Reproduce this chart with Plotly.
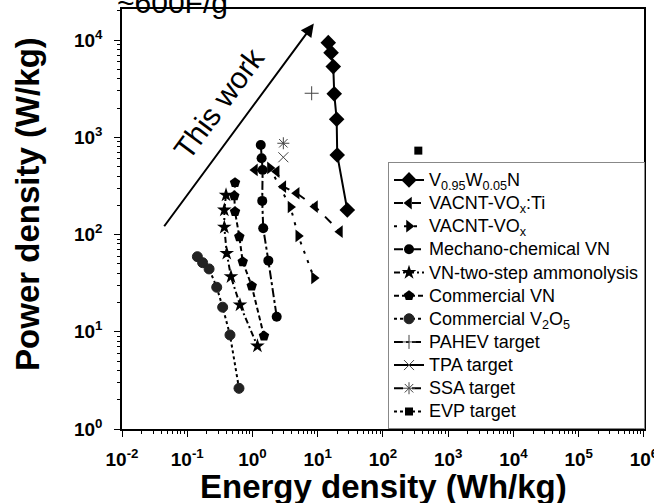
import plotly.graph_objects as go

# ---- data (Energy density Wh/kg, Power density W/kg) ----
vwn_E = [14.5, 16.0, 17.3, 17.9, 19.5, 19.9, 28.4]
vwn_P = [9420, 7430, 5340, 2800, 1536, 659, 179]

vti_E = [1.09, 2.35, 2.97, 4.76, 9.08, 21.9]
vti_P = [462, 444, 311, 266, 194, 107]

vox_E = [1.85, 3.82, 5.03, 8.77]
vox_P = [484, 192, 96.8, 35.8]

mech_E = [1.34, 1.38, 1.43, 1.41, 1.46, 1.75, 2.35]
mech_P = [835, 609, 462, 222, 116, 53.9, 14.3]

two_E = [0.393, 0.370, 0.370, 0.403, 0.468, 0.643, 1.19]
two_P = [255, 179, 119, 64.2, 36.9, 18.9, 7.14]

cvn_E = [0.540, 0.526, 0.540, 0.628, 0.708, 0.973, 1.50]
cvn_P = [342, 250, 172, 95.1, 52.6, 29.6, 9.06]

v2o5_E = [0.143, 0.172, 0.216, 0.283, 0.349, 0.452, 0.621]
v2o5_P = [59.2, 51.4, 44.3, 28.7, 17.9, 9.27, 2.62]

pahev_E, pahev_P = [8.07], [2840]
tpa_E, tpa_P = [2.97], [624]
ssa_E, ssa_P = [2.97], [869]
evp_E, evp_P = [348], [730]

x_tickvals = [0.01, 0.1, 1, 10, 100, 1e3, 1e4, 1e5, 1e6]
x_ticktext = ["<b>10<sup>-2</sup></b>", "<b>10<sup>-1</sup></b>", "<b>10<sup>0</sup></b>",
              "<b>10<sup>1</sup></b>", "<b>10<sup>2</sup></b>", "<b>10<sup>3</sup></b>",
              "<b>10<sup>4</sup></b>", "<b>10<sup>5</sup></b>", "<b>10<sup>6</sup></b>"]
y_tickvals = [1, 10, 100, 1e3, 1e4]
y_ticktext = ["<b>10<sup>0</sup></b>", "<b>10<sup>1</sup></b>", "<b>10<sup>2</sup></b>",
              "<b>10<sup>3</sup></b>", "<b>10<sup>4</sup></b>"]

FONT = "Liberation Sans, Arial, sans-serif"


def leg(txt):
    return '<span style="font-size:18px">' + txt + '</span>'


series = [
    ("V<sub>0.95</sub>W<sub>0.05</sub>N", vwn_E, vwn_P, "solid", "diamond", 12, "black", 0),
    ("VACNT-VO<sub>x</sub>:Ti", vti_E, vti_P, "dash", "triangle-left", 11, "black", 0),
    ("VACNT-VO<sub>x</sub>", vox_E, vox_P, "3px,7px", "triangle-right", 11, "black", 0),
    ("Mechano-chemical VN", mech_E, mech_P, "dashdot", "circle", 10, "black", 0),
    ("VN-two-step ammonolysis", two_E, two_P, "6px,3px,2px,3px", "star", 11, "black", 0),
    ("Commercial VN", cvn_E, cvn_P, "5px,3px", "pentagon", 11, "black", 0),
    ("Commercial V<sub>2</sub>O<sub>5</sub>", v2o5_E, v2o5_P, "dot", "circle", 10, "#222", 1),
    ("PAHEV target", pahev_E, pahev_P, "dashdot", "cross-thin", 10, "#444", 1),
    ("TPA target", tpa_E, tpa_P, "solid", "x-thin", 10, "#444", 1),
    ("SSA target", ssa_E, ssa_P, "dash", "asterisk", 10, "#444", 1),
    ("EVP target", evp_E, evp_P, "dot", "square", 8, "black", 0),
]

fig = go.Figure()
for name, xs, ys, dash, sym, size, col, lw in series:
    fig.add_trace(go.Scatter(
        x=xs, y=ys, name=leg(name), mode="lines+markers",
        line=dict(color="black", width=2, dash=dash),
        marker=dict(symbol=sym, size=size, color=col,
                    line=dict(color=col if lw else "black", width=lw if lw else 0)),
    ))

axis_common = dict(
    showline=True, linecolor="black", linewidth=1.5, mirror=True,
    ticks="outside", ticklen=6, tickwidth=1.2, tickcolor="black",
    showgrid=False, zeroline=False, ticklabeloverflow="allow",
    tickfont=dict(family=FONT, size=19, color="black"),
    minor=dict(ticks="outside", ticklen=3, tickcolor="black", dtick="D1", showgrid=False),
)

fig.update_xaxes(type="log", range=[-2, 6.0005], tickvals=x_tickvals, ticktext=x_ticktext,
                 ticklabelstandoff=6, automargin=False, **axis_common)
fig.update_yaxes(type="log", range=[0, 4.32], tickvals=y_tickvals, ticktext=y_ticktext,
                 ticklabelstandoff=8, automargin=False, **axis_common)

fig.update_layout(
    width=654, height=503,
    margin=dict(l=122, r=10, t=9, b=74, autoexpand=False),
    paper_bgcolor="white", plot_bgcolor="white",
    font=dict(family=FONT, color="black"),
    showlegend=True,
    legend=dict(x=0.5096, y=0.635, xanchor="left", yanchor="top",
                bgcolor="white", bordercolor="#888", borderwidth=1,
                font=dict(family=FONT, size=15.5, color="black"),
                tracegroupgap=0, itemwidth=30),
    annotations=[
        dict(text="<b>Energy density (Wh/kg)</b>", xref="paper", yref="paper",
             x=0.5, y=-0.136, xanchor="center", yanchor="middle", showarrow=False,
             font=dict(family=FONT, size=33, color="black")),
        dict(text="<b>Power density (W/kg)</b>", xref="paper", yref="paper",
             x=-0.18, y=0.536, xanchor="center", yanchor="middle", showarrow=False,
             textangle=-90, font=dict(family=FONT, size=33, color="black")),
        dict(text="~600F/g", xref="paper", yref="paper", x=-0.0134, y=1.0155,
             xanchor="left", yanchor="middle", showarrow=False,
             font=dict(family=FONT, size=30, color="black")),
        dict(x=0.94, y=4.17, ax=-1.37, ay=2.07, xref="x", yref="y", axref="x", ayref="y",
             text="", showarrow=True, arrowhead=2, arrowsize=1.3, arrowwidth=2, arrowcolor="black"),
        dict(text="This work", xref="paper", yref="paper",
             x=(219 - 122) / 522, y=(429 - 104) / 420, xanchor="center", yanchor="middle",
             showarrow=False, textangle=-53.5,
             font=dict(family=FONT, size=30, color="black")),
    ],
)

fig.write_html("out.html", config={"displayModeBar": False},
               post_script="document.body.style.margin='0';")
